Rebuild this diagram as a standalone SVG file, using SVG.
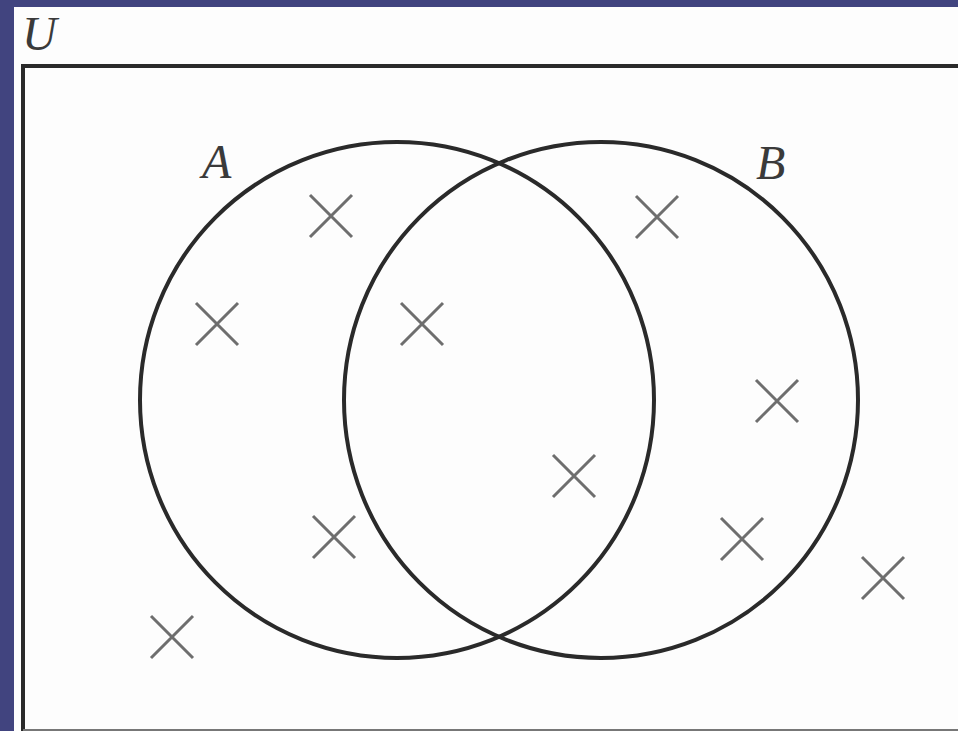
<svg xmlns="http://www.w3.org/2000/svg" width="958" height="731" viewBox="0 0 958 731">
<style>
.frame{fill:#41447f}
.set{fill:none;stroke:#2a2a2a;stroke-width:4}
.x{stroke:#6e6e6e;stroke-width:3;fill:none}
.lbl{font-family:"Liberation Serif",serif;font-style:italic;font-size:48px;fill:#3a3a3a}
</style>
<rect x="0" y="0" width="958" height="731" fill="#fdfdfd"/>
<rect class="frame" x="0" y="0" width="958" height="7"/>
<rect class="frame" x="0" y="0" width="14" height="731"/>
<g id="universe">
<path d="M958 66H23V731" fill="none" stroke="#2a2a2a" stroke-width="4"/>
<path d="M23 730H958" fill="none" stroke="#777" stroke-width="2"/>
<text class="lbl" x="22" y="50">U</text>
</g>
<g id="setA">
<ellipse class="set" cx="397" cy="400" rx="257" ry="258"/>
<text class="lbl" x="202" y="178">A</text>
</g>
<g id="setB">
<ellipse class="set" cx="601" cy="400" rx="257" ry="258"/>
<text class="lbl" x="756" y="179">B</text>
</g>
<g id="elements" class="x">
<path d="M310 195l42 42M352 195l-42 42"/>
<path d="M196 303l42 42M238 303l-42 42"/>
<path d="M401 303l42 42M443 303l-42 42"/>
<path d="M636 196l42 42M678 196l-42 42"/>
<path d="M756 380l42 42M798 380l-42 42"/>
<path d="M553 455l42 42M595 455l-42 42"/>
<path d="M313 516l42 42M355 516l-42 42"/>
<path d="M721 518l42 42M763 518l-42 42"/>
<path d="M862 557l42 42M904 557l-42 42"/>
<path d="M151 616l42 42M193 616l-42 42"/>
</g>
</svg>
